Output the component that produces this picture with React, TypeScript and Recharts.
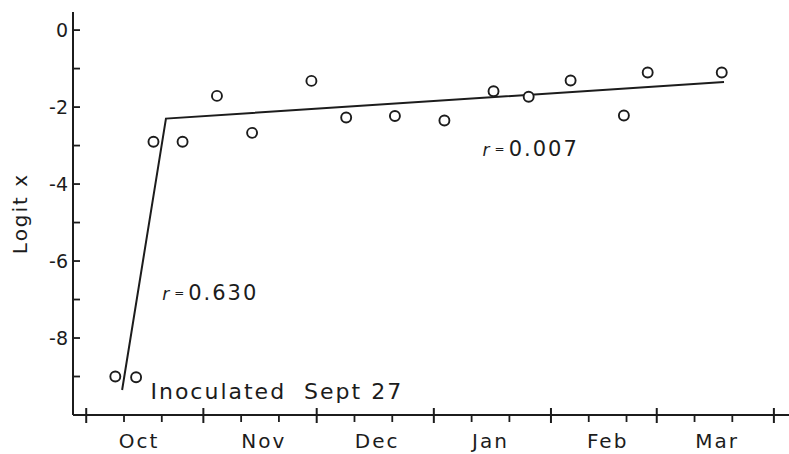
import React from "react";
import { ComposedChart, Line, Scatter, XAxis, YAxis } from "recharts";

// x values are days counted from Oct 1 (inoculation on Sept 27 = day -4)
const months = ["Oct", "Nov", "Dec", "Jan", "Feb", "Mar"];
const monthStartDays = [0, 31, 61, 92, 123, 151, 182];
const tenDayTicks = [10, 20, 41, 51, 71, 81, 102, 112, 133, 143, 161, 171];
const monthLabelDays = [14, 47, 77, 107, 138, 167];
const yTicks = [0, -1, -2, -3, -4, -5, -6, -7, -8, -9];

const obsDays = [7.7, 13.2, 17.8, 25.5, 34.6, 43.9, 59.6, 68.8, 81.7, 94.8, 107.8, 117.1, 128.2, 142.3, 148.6, 168.2];
const obsLogit = [-9.0, -9.02, -2.9, -2.9, -1.71, -2.67, -1.32, -2.27, -2.23, -2.35, -1.59, -1.73, -1.31, -2.22, -1.1, -1.1];

const fitDays = [9.5, 21.1, 168.8];
const fitLogit = [-9.35, -2.3, -1.35];

const noteDays = [20.1, 104.9, 17];
const noteLogit = [-7.01, -3.27, -9.58];
const noteTexts = ["0.630", "0.007", "Inoculated  Sept 27"];

const INK = "#1c1c1c";
const FONT = "DejaVu Sans";

const points = obsDays.map((d, i) => ({ day: d, logit: obsLogit[i] }));
const fit = fitDays.map((d, i) => ({ day: d, logit: fitLogit[i] }));
const notes = noteDays.map((d, i) => ({ day: d, logit: noteLogit[i], text: noteTexts[i], isR: i < 2 }));

function XTick(props: any) {
  const { x, y, payload } = props;
  const v = payload.value;
  const li = monthLabelDays.indexOf(v);
  if (li >= 0) {
    return (
      <text x={x} y={y + 33} textAnchor="middle" fontFamily={FONT} fontSize={20} letterSpacing={2} fill={INK}>
        {months[li]}
      </text>
    );
  }
  if (monthStartDays.includes(v)) {
    return <line x1={x} x2={x} y1={y - 7} y2={y + 8} stroke={INK} strokeWidth={2} />;
  }
  return <line x1={x} x2={x} y1={y} y2={y + 7} stroke={INK} strokeWidth={1.8} />;
}

function YTick(props: any) {
  const { x, y, payload } = props;
  const v = payload.value;
  return (
    <g>
      <line x1={x} x2={x + 7} y1={y} y2={y} stroke={INK} strokeWidth={1.8} />
      {v % 2 === 0 && (
        <text x={x - 5} y={y + 7} textAnchor="end" fontFamily={FONT} fontSize={19} fill={INK}>
          {v === 0 ? "0" : `-${Math.abs(v)}`}
        </text>
      )}
    </g>
  );
}

function OpenCircle(props: any) {
  const { cx, cy } = props;
  return <circle cx={cx} cy={cy} r={5} fill="#fff" stroke={INK} strokeWidth={1.9} />;
}

function NoteText(props: any) {
  const { cx, cy, payload } = props;
  if (payload.isR) {
    return (
      <text x={cx} y={cy} fontFamily={FONT} fontSize={21} fill={INK} letterSpacing={2}>
        <tspan fontStyle="italic" fontSize={17}>r</tspan>
        <tspan fontSize={12} dx={3} dy={-3}>=</tspan>
        <tspan dx={2} dy={3}>{payload.text}</tspan>
      </text>
    );
  }
  return (
    <text x={cx} y={cy} fontFamily={FONT} fontSize={22} fill={INK} letterSpacing={2} style={{ whiteSpace: "pre" }}>
      {payload.text}
    </text>
  );
}

function YLabel(props: any) {
  const { viewBox } = props;
  const cx = viewBox.x + 20;
  const cy = viewBox.y + viewBox.height / 2;
  return (
    <text
      x={cx}
      y={cy}
      transform={`rotate(-90 ${cx} ${cy})`}
      textAnchor="middle"
      dominantBaseline="central"
      fontFamily={FONT}
      fontSize={20}
      letterSpacing={2}
      fill={INK}
    >
      Logit x
    </text>
  );
}

export default function App() {
  return (
    <div style={{ position: "absolute", left: 0, top: 0, background: "#fff" }}>
      <ComposedChart width={789} height={454} margin={{ top: 12, right: 0, bottom: 0, left: 0 }}>
        <XAxis
          type="number"
          dataKey="day"
          domain={[-3.5, 186]}
          ticks={[...monthStartDays, ...tenDayTicks, ...monthLabelDays]}
          interval={0}
          tickSize={0}
          tickMargin={0}
          tickLine={false}
          tick={XTick}
          height={39}
          axisLine={{ stroke: INK, strokeWidth: 2 }}
          allowDataOverflow
        />
        <YAxis
          type="number"
          dataKey="logit"
          domain={[-10, 0.47]}
          ticks={yTicks}
          interval={0}
          tickSize={0}
          tickMargin={0}
          tickLine={false}
          tick={YTick}
          width={73}
          axisLine={{ stroke: INK, strokeWidth: 2 }}
          label={{ content: YLabel }}
          allowDataOverflow
        />
        <Line
          data={fit}
          dataKey="logit"
          type="linear"
          stroke={INK}
          strokeWidth={2}
          dot={false}
          isAnimationActive={false}
        />
        <Scatter data={points} dataKey="logit" shape={OpenCircle} isAnimationActive={false} />
        <Scatter data={notes} dataKey="logit" shape={NoteText} isAnimationActive={false} />
      </ComposedChart>
    </div>
  );
}
